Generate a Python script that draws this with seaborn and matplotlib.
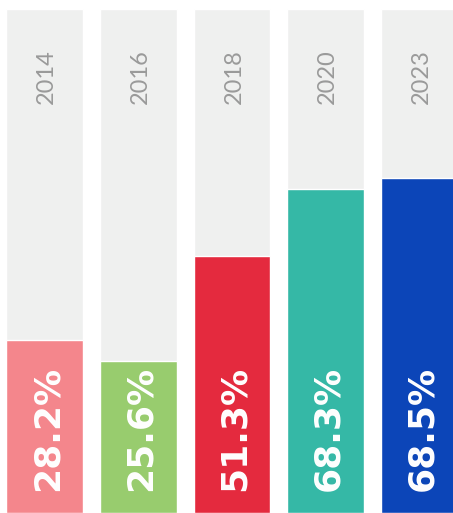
import matplotlib
matplotlib.use("Agg")
import matplotlib.pyplot as plt
import seaborn as sns
import pandas as pd

# values
years = ["2014", "2016", "2018", "2020", "2023"]
pct_labels = [28.2, 25.6, 51.3, 68.3, 68.5]
# drawn bar heights, as share of the grey column (the picture is not to scale)
bar_heights = [34.3, 30.2, 51.0, 64.3, 66.5]
bar_colors = ["#F4868C", "#98CC6E", "#E42A3E", "#35B8A6", "#0C45B8"]

df = pd.DataFrame({"year": years, "height": bar_heights, "full": [100] * len(years)})

sns.set_theme(style="white")
plt.rcParams["font.family"] = ["Lato", "DejaVu Sans"]

fig = plt.figure(figsize=(4.53, 5.13), dpi=100)
ax = fig.add_axes([0, 0, 1, 1])

# grey background columns
sns.barplot(data=df, x="year", y="full", color="#EFF0EF", width=0.82,
            saturation=1, ax=ax)
# coloured value bars
sns.barplot(data=df, x="year", y="height", hue="year", palette=bar_colors,
            width=0.82, saturation=1, legend=False, ax=ax)

for i, (yr, p) in enumerate(zip(years, pct_labels)):
    ax.text(i + 0.02, 92.0, yr, rotation=90, rotation_mode="anchor", ha="right",
            va="center", fontsize=17, fontweight="normal", color="#9A9A9A")
    ax.text(i + 0.03, 4.4, f"{p:.1f}%", rotation=90, rotation_mode="anchor",
            ha="left", va="center", fontsize=26, fontweight="bold",
            color="white", family="DejaVu Sans")

ax.set_xlim(-0.4747, 4.357)
ax.set_ylim(0, 101.79)
ax.axis("off")

fig.savefig("out.png", dpi=100, facecolor="white")
